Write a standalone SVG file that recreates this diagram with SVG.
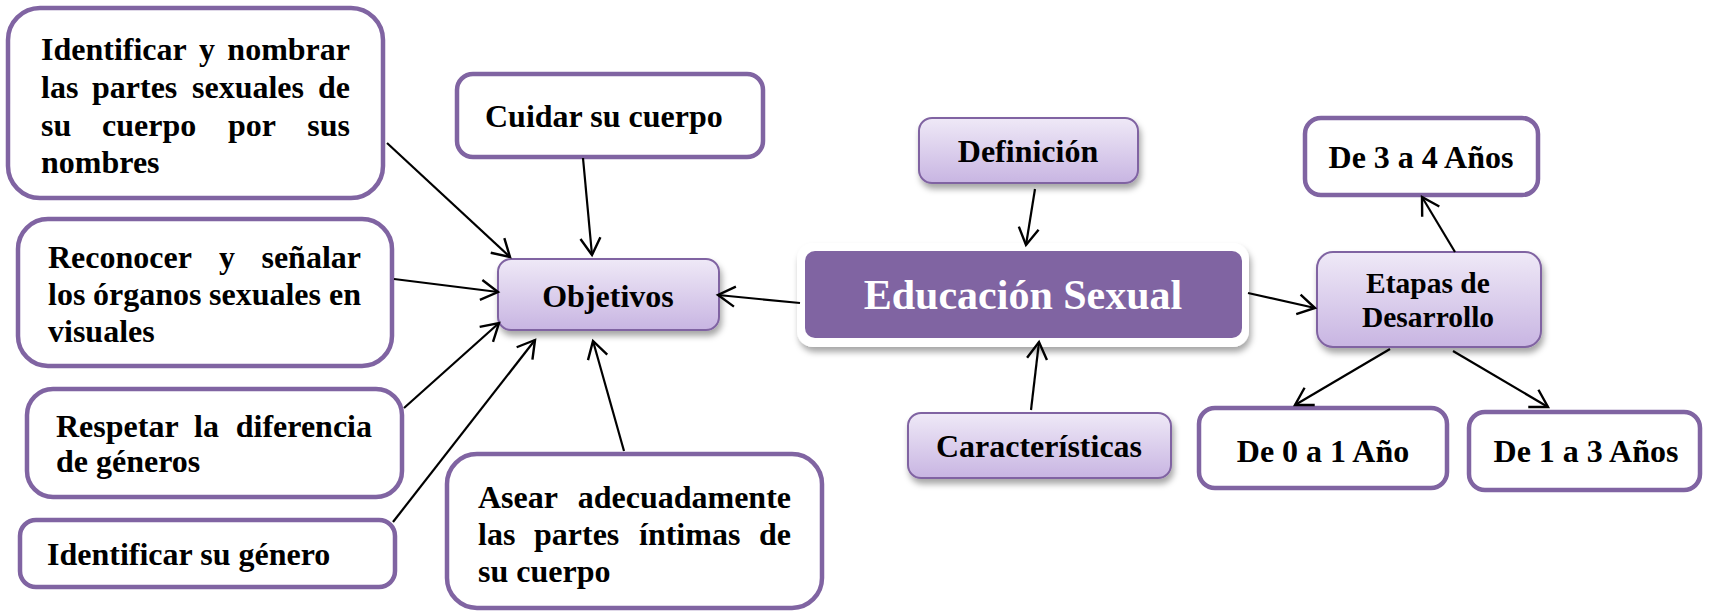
<svg xmlns="http://www.w3.org/2000/svg" width="1717" height="611" viewBox="0 0 1717 611">
<style>
.box{fill:#fff;stroke:#8064A2;stroke-width:4.5}
.lav{fill:url(#lg);stroke:#8064A2;stroke-width:2;filter:url(#sh)}
.t{font-family:"Liberation Serif","Times New Roman",serif;font-weight:bold;font-size:32px;fill:#000}
.c{text-anchor:middle}
.e{text-anchor:end}
.conn line{stroke:#000;stroke-width:2.2;marker-end:url(#ah)}
</style>
<defs>
<linearGradient id="lg" x1="0" y1="0" x2="0" y2="1">
<stop offset="0" stop-color="#EFE9F7"/>
<stop offset="1" stop-color="#C8B5E2"/>
</linearGradient>
<filter id="sh" x="-10%" y="-20%" width="130%" height="160%">
<feDropShadow dx="2" dy="5" stdDeviation="3" flood-color="#000" flood-opacity="0.35"/>
</filter>
<marker id="ah" markerUnits="userSpaceOnUse" markerWidth="24" markerHeight="24" refX="18" refY="11" orient="auto" viewBox="0 0 24 22">
<path d="M1,1 L18,11 L1,21" fill="none" stroke="#000" stroke-width="2.4"/>
</marker>
</defs>

<g id="n-identificar-nombrar">
<rect class="box" x="8" y="8" width="375" height="190" rx="32"/>
<text class="t" y="60"><tspan x="41">Identificar</tspan><tspan x="199">y</tspan></text>
<text class="t e" x="350" y="60">nombrar</text>
<text class="t" y="98"><tspan x="41">las</tspan><tspan x="92">partes</tspan><tspan x="192">sexuales</tspan></text>
<text class="t e" x="350" y="98">de</text>
<text class="t" y="136"><tspan x="41">su</tspan><tspan x="102">cuerpo</tspan><tspan x="228">por</tspan></text>
<text class="t e" x="350" y="136">sus</text>
<text class="t" x="41" y="173">nombres</text>
</g>

<g id="n-reconocer">
<rect class="box" x="18" y="219" width="374" height="147" rx="30"/>
<text class="t" y="268"><tspan x="48">Reconocer</tspan><tspan x="219">y</tspan></text>
<text class="t e" x="361" y="268">señalar</text>
<text class="t" y="305"><tspan x="48">los</tspan><tspan x="93">órganos</tspan><tspan x="209">sexuales</tspan></text>
<text class="t e" x="361" y="305">en</text>
<text class="t" x="48" y="342">visuales</text>
</g>

<g id="n-respetar">
<rect class="box" x="27" y="389" width="375" height="108" rx="26"/>
<text class="t" y="437"><tspan x="56">Respetar</tspan><tspan x="194">la</tspan></text>
<text class="t e" x="372" y="437">diferencia</text>
<text class="t" x="56" y="472">de géneros</text>
</g>

<g id="n-identificar-genero">
<rect class="box" x="20" y="520" width="375" height="67" rx="16"/>
<text class="t" x="47" y="565">Identificar su género</text>
</g>

<g id="n-cuidar">
<rect class="box" x="457" y="74" width="306" height="83" rx="16"/>
<text class="t" x="485" y="127">Cuidar su cuerpo</text>
</g>

<g id="n-asear">
<rect class="box" x="447" y="454" width="375" height="154" rx="30"/>
<text class="t" x="478" y="508">Asear</text>
<text class="t e" x="791" y="508">adecuadamente</text>
<text class="t" y="545"><tspan x="478">las</tspan><tspan x="534">partes</tspan><tspan x="639">íntimas</tspan></text>
<text class="t e" x="791" y="545">de</text>
<text class="t" x="478" y="582">su cuerpo</text>
</g>

<g id="n-objetivos">
<rect class="lav" x="498" y="259" width="221" height="71" rx="13"/>
<text class="t c" x="608" y="307">Objetivos</text>
</g>

<g id="n-educacion">
<rect x="797" y="243" width="452" height="104" rx="16" fill="#fff" filter="url(#sh)"/>
<rect x="805" y="251" width="437" height="87" rx="10" fill="#8064A2"/>
<text class="t c" x="1023" y="309" style="font-size:42px;fill:#fff">Educación Sexual</text>
</g>

<g id="n-definicion">
<rect class="lav" x="919" y="118" width="219" height="65" rx="13"/>
<text class="t c" x="1028" y="162">Definición</text>
</g>

<g id="n-caracteristicas">
<rect class="lav" x="908" y="413" width="263" height="65" rx="13"/>
<text class="t c" x="1039" y="457">Características</text>
</g>

<g id="n-etapas">
<rect class="lav" x="1317" y="252" width="224" height="95" rx="16"/>
<text class="t c" x="1428" y="293" style="font-size:29.5px">Etapas de</text>
<text class="t c" x="1428" y="327" style="font-size:29.5px">Desarrollo</text>
</g>

<g id="n-3a4">
<rect class="box" x="1305" y="118" width="233" height="77" rx="16"/>
<text class="t c" x="1421" y="168">De 3 a 4 Años</text>
</g>

<g id="n-0a1">
<rect class="box" x="1199" y="408" width="248" height="80" rx="16"/>
<text class="t c" x="1323" y="462">De 0 a 1 Año</text>
</g>

<g id="n-1a3">
<rect class="box" x="1469" y="412" width="231" height="78" rx="16"/>
<text class="t c" x="1586" y="462">De 1 a 3 Años</text>
</g>

<g id="connectors" class="conn">
<line x1="387" y1="143" x2="510" y2="257"/>
<line x1="583" y1="158" x2="592" y2="255"/>
<line x1="394" y1="279" x2="498" y2="292"/>
<line x1="404" y1="408" x2="499" y2="323"/>
<line x1="393" y1="522" x2="535" y2="340"/>
<line x1="624" y1="451" x2="593" y2="341"/>
<line x1="800" y1="303" x2="718" y2="295"/>
<line x1="1035" y1="189" x2="1026" y2="245"/>
<line x1="1031" y1="410" x2="1039" y2="342"/>
<line x1="1248" y1="293" x2="1315" y2="308"/>
<line x1="1455" y1="252" x2="1422" y2="197"/>
<line x1="1390" y1="349" x2="1295" y2="405"/>
<line x1="1453" y1="351" x2="1548" y2="407"/>
</g>
</svg>
